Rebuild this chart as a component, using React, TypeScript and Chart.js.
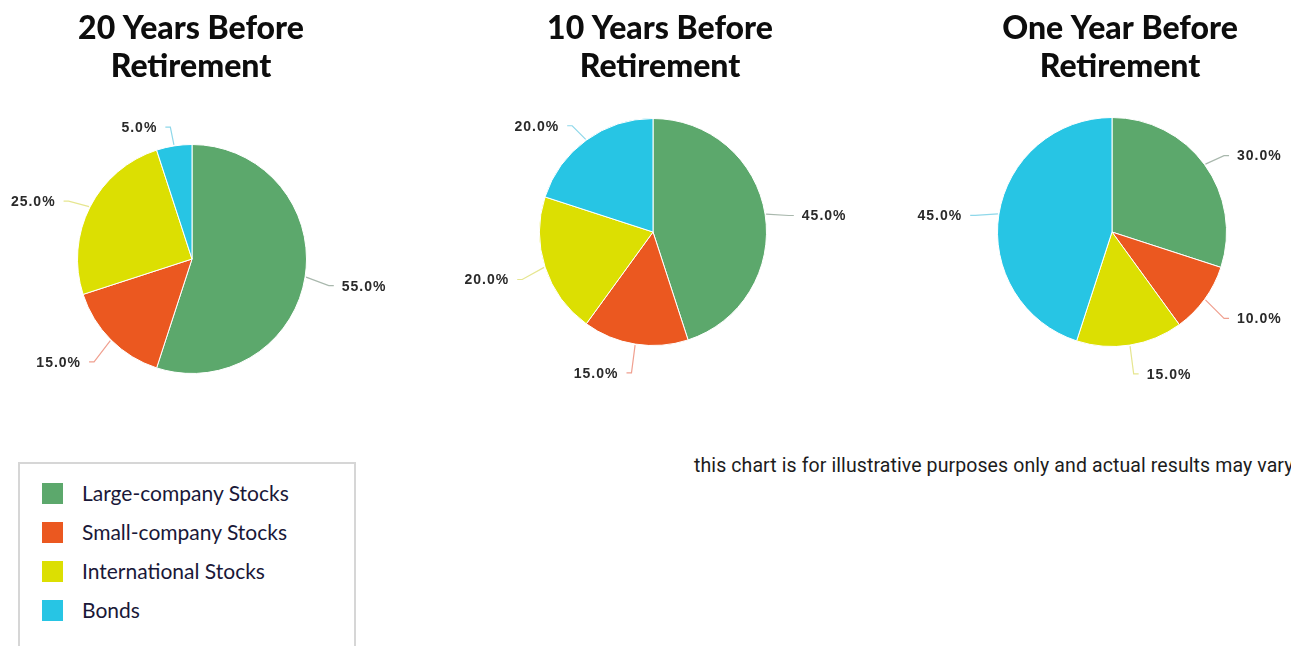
import React, { useEffect, useRef } from "react";
import { Chart, registerables } from "chart.js";

Chart.register(...registerables);

// ---- data ----
const categories = ["Large-company Stocks", "Small-company Stocks", "International Stocks", "Bonds"];
const sliceColors = ["#5CA86C", "#EB5820", "#DCDF02", "#27C5E4"];
const lineColors = ["#a9b8ad", "#f0a090", "#e6e690", "#8fd8ea"];
const title20 = ["20 Years Before", "Retirement"];
const title10 = ["10 Years Before", "Retirement"];
const title1 = ["One Year Before", "Retirement"];
const values20 = [55, 15, 25, 5];
const values10 = [45, 15, 20, 20];
const values1 = [30, 10, 15, 45];
const disclaimer = "this chart is for illustrative purposes only and actual results may vary";

const CW = 430;
const CH = 420;

type PieSpec = {
  title: string[];
  values: number[];
  left: number;
  titleX: number;
  pad: { left: number; top: number; right: number; bottom: number };
};

const pies: PieSpec[] = [
  { title: title20, values: values20, left: 0, titleX: 191, pad: { left: 77, top: 144, right: 123, bottom: 46 } },
  { title: title10, values: values10, left: 430, titleX: 230, pad: { left: 109, top: 118, right: 93, bottom: 74 } },
  { title: title1, values: values1, left: 861, titleX: 259, pad: { left: 136, top: 117, right: 64, bottom: 73 } },
];

const titlePlugin = {
  id: "twoLineTitle",
  afterDraw(chart: any) {
    const opts = chart.options.plugins.twoLineTitle;
    if (!opts) return;
    const ctx = chart.ctx;
    ctx.save();
    ctx.font = "900 32px Lato";
    ctx.fillStyle = "#0d0d0d";
    ctx.textAlign = "center";
    ctx.textBaseline = "middle";
    opts.lines.forEach((l: string, i: number) => {
      ctx.fillText(l, opts.x, 29 + i * 38);
    });
    ctx.restore();
  },
};

const outLabelPlugin = {
  id: "outLabels",
  afterDatasetsDraw(chart: any) {
    const ctx = chart.ctx;
    const meta = chart.getDatasetMeta(0);
    const data = chart.data.datasets[0].data as number[];
    ctx.save();
    meta.data.forEach((arc: any, i: number) => {
      const p = arc.getProps(["x", "y", "startAngle", "endAngle", "outerRadius"], true);
      const mid = (p.startAngle + p.endAngle) / 2;
      const c = Math.cos(mid);
      const s = Math.sin(mid);
      const ex = p.x + c * (p.outerRadius + 1);
      const ey = p.y + s * (p.outerRadius + 1);
      const bx = p.x + c * (p.outerRadius + 24);
      const by = p.y + s * (p.outerRadius + 24) + 5;
      const right = c >= 0;
      const hx = bx + (right ? 5 : -5);
      ctx.strokeStyle = lineColors[i];
      ctx.lineWidth = 1.2;
      ctx.beginPath();
      ctx.moveTo(ex, ey);
      ctx.lineTo(bx, by);
      ctx.lineTo(hx, by);
      ctx.stroke();
      ctx.font = "bold 14px 'Liberation Sans', Arial";
      (ctx as any).letterSpacing = "1px";
      ctx.fillStyle = "#2a2a2a";
      ctx.textBaseline = "middle";
      ctx.textAlign = right ? "left" : "right";
      ctx.fillText(data[i].toFixed(1) + "%", hx + (right ? 8 : -8), by + 1);
    });
    ctx.restore();
  },
};

function PieCanvas({ spec }: { spec: PieSpec }) {
  const ref = useRef<HTMLCanvasElement | null>(null);
  useEffect(() => {
    if (!ref.current) return;
    const chart = new Chart(ref.current, {
      type: "pie",
      data: {
        labels: categories,
        datasets: [
          {
            data: spec.values,
            backgroundColor: sliceColors,
            borderColor: "#ffffff",
            borderWidth: 1,
          },
        ],
      },
      options: {
        animation: false,
        responsive: false,
        maintainAspectRatio: false,
        layout: { padding: spec.pad },
        plugins: {
          legend: { display: false },
          tooltip: { enabled: false },
          title: { display: false },
          twoLineTitle: { lines: spec.title, x: spec.titleX },
        } as any,
      },
      plugins: [titlePlugin, outLabelPlugin],
    });
    return () => chart.destroy();
  }, [spec]);
  return (
    <canvas
      ref={ref}
      width={CW}
      height={CH}
      style={{ position: "absolute", left: spec.left, top: 0, width: CW, height: CH }}
    />
  );
}

export default function App() {
  return (
    <div
      style={{
        position: "fixed",
        left: 0,
        top: 0,
        width: 1291,
        height: 646,
        overflow: "hidden",
        background: "#ffffff",
      }}
    >
      {pies.map((p, i) => (
        <PieCanvas key={i} spec={p} />
      ))}
      <div
        style={{
          position: "absolute",
          left: 18,
          top: 462,
          width: 338,
          height: 220,
          border: "2px solid #d6d6d6",
          boxSizing: "border-box",
        }}
      />
      {categories.map((c, i) => (
        <React.Fragment key={c}>
          <div
            style={{
              position: "absolute",
              left: 42,
              top: 483 + i * 39,
              width: 21,
              height: 21,
              background: sliceColors[i],
            }}
          />
          <div
            style={{
              position: "absolute",
              left: 82,
              top: 480 + i * 39,
              height: 26,
              lineHeight: "26px",
              fontFamily: "Lato",
              fontSize: 21,
              color: "#1a1838",
              whiteSpace: "nowrap",
            }}
          >
            {c}
          </div>
        </React.Fragment>
      ))}
      <div
        style={{
          position: "absolute",
          left: 694,
          top: 453,
          height: 26,
          lineHeight: "26px",
          fontFamily: "Roboto",
          fontSize: 19.5,
          letterSpacing: "0.1px",
          color: "#1c1c1c",
          whiteSpace: "nowrap",
        }}
      >
        {disclaimer}
      </div>
    </div>
  );
}
